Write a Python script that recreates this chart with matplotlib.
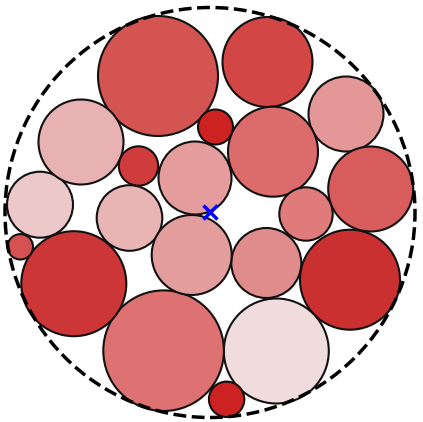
"""Circle packing: 20 circles inside a dashed enclosing circle."""
import matplotlib
matplotlib.use('Agg')
import matplotlib.pyplot as plt
from matplotlib.patches import Circle

# enclosing circle (centre at origin)
OUTER_R = 205

# circle centres (x, y with y up) and radii
xs = [-52, 57.5, 136, 160.7, 140, 66.3, 16.6, -46.4, -136.2, -189.7,
      -170, -129, -71.5, -80.5, -15, 5.5, 63, 96, 56.3, -18.3]
ys = [136.5, 150.5, 98.5, 23.5, -67.2, -138.5, -186.8, -138.2, -71.2, -34.3,
      7.8, 70.5, 46.5, -5.5, 34.5, 85.5, 60.8, -1.5, -50.5, -42.5]
rs = [60, 45, 37.5, 42.5, 50, 52.5, 17.7, 60.3, 52.5, 12.7,
      33, 42.5, 19.7, 32.8, 36.5, 17.5, 45, 26.7, 35, 40]
colors = ['#d45452', '#d24646', '#e39797', '#d85c5c', '#cb3030',
          '#f0dcdc', '#cc2222', '#de7272', '#cc3636', '#d65252',
          '#ecc8c8', '#e8b2b2', '#d03c3c', '#e8b4b4', '#e49c9c',
          '#cc2222', '#dc6b6b', '#df7b7b', '#e08c8c', '#e49d9d']


def main():
	fig = plt.figure(figsize=(4.23, 4.22), dpi=100)
	ax = fig.add_axes([0, 0, 1, 1])

	for x, y, r, c in zip(xs, ys, rs, colors):
		ax.add_patch(Circle((x, y), r, facecolor=c, edgecolor='#111111',
		                    linewidth=1.5))

	ax.add_patch(Circle((0, 0), OUTER_R, fill=False, edgecolor='black',
	                    linestyle='--', linewidth=2.5))
	ax.plot([0], [0], 'x', color='blue', markersize=10, mew=2.5)

	ax.set_xlim(-210, 213)
	ax.set_ylim(-209.5, 212.5)
	ax.axis('off')

	fig.savefig('out.png', dpi=100)


if __name__ == '__main__':
	main()
